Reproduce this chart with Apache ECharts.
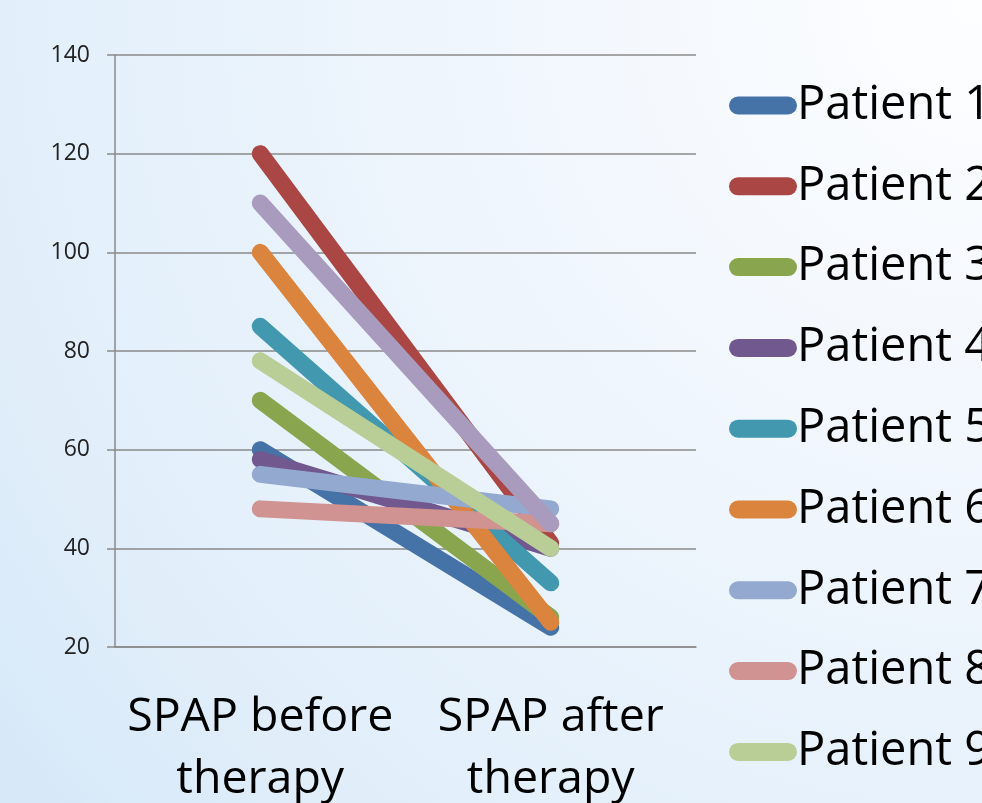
<!DOCTYPE html>
<html>
<head>
<meta charset="utf-8">
<script src="https://cdn.jsdelivr.net/npm/echarts@6/dist/echarts.min.js"></script>
<style>
html,body{margin:0;padding:0;}
#chart{width:982px;height:803px;}
</style>
</head>
<body>
<div id="chart"></div>
<script>
const categories = ['SPAP before\ntherapy', 'SPAP after\ntherapy'];
const yTicks = [20, 40, 60, 80, 100, 120, 140];
const patientNames = ['Patient 1','Patient 2','Patient 3','Patient 4','Patient 5','Patient 6','Patient 7','Patient 8','Patient 9','Patient 10'];
const patient1 = [60, 24];
const patient2 = [120, 41];
const patient3 = [70, 26];
const patient4 = [58, 40];
const patient5 = [85, 33];
const patient6 = [100, 25];
const patient7 = [55, 48];
const patient8 = [48, 45];
const patient9 = [78, 40];
const patient10 = [110, 45];
const patientValues = [patient1, patient2, patient3, patient4, patient5, patient6, patient7, patient8, patient9, patient10];
const colors = ['#4572A7','#AA4643','#89A54E','#71588F','#4198AF','#DB843D','#93A9CF','#D19392','#B9CD96','#A99BBD'];

const chart = echarts.init(document.getElementById('chart'));
const capsule = 'path://M9,0 H59 A9,9 0 0 1 59,18 H9 A9,9 0 0 1 9,0 Z';
chart.setOption({
  backgroundColor: {
    type: 'radial', x: 1, y: 0, r: 1.58,
    colorStops: [
      {offset: 0, color: '#fdfeff'},
      {offset: 0.4, color: '#f0f6fd'},
      {offset: 0.65, color: '#e6f1fb'},
      {offset: 0.8, color: '#e1eefa'},
      {offset: 1, color: '#d5e8f8'}
    ]
  },
  color: colors,
  animation: false,
  grid: {left: 115, right: 286, top: 55, bottom: 156, outerBoundsMode: 'none', containLabel: false},
  legend: {
    orient: 'vertical',
    left: 729,
    top: 82,
    padding: 0,
    itemWidth: 68,
    itemHeight: 18,
    itemGap: 33.8,
    icon: capsule,
    textStyle: {fontFamily: 'Open Sans', fontSize: 47, color: '#000', padding: [0, 0, 0, -5]},
    data: patientNames
  },
  xAxis: {
    type: 'category',
    data: categories,
    boundaryGap: true,
    axisLine: {lineStyle: {color: '#8a8a8a', width: 1.5}},
    axisTick: {length: 14, lineStyle: {color: '#8a8a8a', width: 1.5}},
    axisLabel: {interval: 0, hideOverlap: false, fontFamily: 'Open Sans', fontSize: 46.5, color: '#000', lineHeight: 62, margin: 40}
  },
  yAxis: {
    type: 'value',
    min: yTicks[0],
    max: yTicks[yTicks.length - 1],
    interval: 20,
    axisLine: {show: true, lineStyle: {color: '#8a8a8a', width: 1.5}},
    axisTick: {show: true, length: 8, lineStyle: {color: '#8a8a8a', width: 1.5}},
    splitLine: {lineStyle: {color: '#8a8a8a', width: 1.5}},
    axisLabel: {fontFamily: 'Open Sans', fontSize: 23, color: '#222', margin: 25}
  },
  series: patientNames.map((name, i) => ({
    name: name,
    type: 'line',
    data: patientValues[i],
    showSymbol: false,
    symbol: 'none',
    lineStyle: {width: 17, cap: 'round', join: 'round', color: colors[i]},
    itemStyle: {color: colors[i]},
    z: 2 + i
  }))
});
</script>
</body>
</html>
